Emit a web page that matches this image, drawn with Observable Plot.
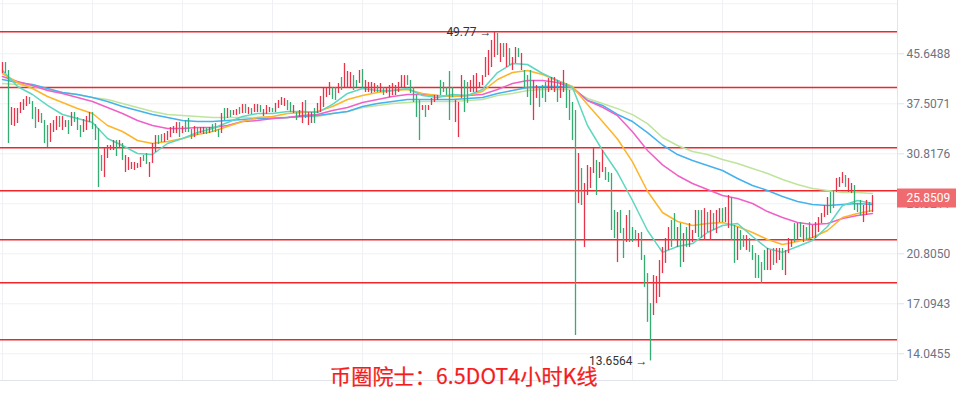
<!DOCTYPE html>
<html><head><meta charset="utf-8">
<script src="https://cdn.jsdelivr.net/npm/d3@7"></script>
<script src="https://cdn.jsdelivr.net/npm/@observablehq/plot@0.6"></script>
<style>
body{margin:0;background:#fff;}
#wrap{position:relative;width:956px;height:396px;overflow:hidden;}
#wrap svg{position:absolute;left:0;top:0;}
#title{position:absolute;left:330px;top:362px;z-index:2;font-family:"Noto Sans CJK SC",sans-serif;font-size:21px;line-height:26px;color:#f41c1c;white-space:nowrap;-webkit-text-stroke:0.25px #f41c1c;letter-spacing:0.2px;}
</style></head><body>
<div id="wrap"><div id="title">币圈院士：6.5DOT4小时K线</div></div>
<script>
// ---- candles (4h, DOT) : high, low, direction (1 = up/red, 0 = down/green)
const hi = [44.11,44.11,42.75,36.97,36.82,36.82,37.70,38.15,38.60,38.45,
37.85,36.97,36.68,36.10,35.12,34.44,34.71,35.12,35.68,35.68,
35.68,35.12,35.12,36.24,36.24,35.54,34.44,35.26,35.68,36.24,
36.24,34.57,34.04,30.61,31.47,31.84,31.84,32.47,32.47,32.47,
32.09,30.61,30.37,29.78,29.78,29.67,30.37,30.61,30.85,29.78,
32.09,33.11,33.11,33.24,33.37,33.64,34.17,34.31,34.84,34.84,
34.31,35.12,35.40,33.90,34.31,34.17,34.17,34.17,34.04,34.17,
34.57,34.71,33.90,36.10,36.82,36.82,36.53,36.53,36.68,36.97,
37.41,37.41,36.97,36.82,37.41,37.41,37.26,36.68,37.26,36.97,
36.82,37.56,38.00,38.45,38.30,38.00,37.70,37.26,36.24,36.53,
37.70,38.00,36.24,36.24,36.82,37.56,38.60,39.83,39.99,40.78,
39.99,39.99,40.62,41.59,43.94,42.58,42.41,41.91,41.10,42.75,
42.92,41.10,40.78,40.78,40.62,40.30,40.62,39.99,39.99,40.30,
40.62,40.30,40.78,41.91,41.91,41.91,41.10,39.99,38.75,38.00,
37.26,37.26,37.26,38.30,38.75,38.75,41.10,40.78,39.99,42.58,
39.99,38.00,37.70,41.91,41.10,40.78,41.10,41.91,42.25,40.78,
41.91,44.99,46.24,48.10,49.77,49.44,47.54,47.54,47.54,46.60,
44.99,46.79,46.60,45.70,42.75,41.91,42.75,41.10,40.30,39.99,
40.30,40.78,41.42,41.59,41.59,41.10,40.78,42.75,40.62,39.52,
37.70,36.53,30.85,29.09,27.42,29.43,29.20,31.47,30.02,29.78,
31.22,29.20,28.63,28.52,24.66,24.47,24.66,22.98,24.18,24.66,
23.07,22.80,22.53,22.62,20.67,19.25,17.11,19.10,19.03,20.26,
21.33,22.09,23.07,23.71,24.37,23.07,23.43,22.53,23.07,23.43,
22.80,24.66,24.66,24.66,24.85,24.47,24.66,24.37,24.66,24.85,
24.85,24.95,26.16,25.95,23.25,23.07,22.80,22.35,22.35,22.09,
21.49,20.83,20.67,20.10,21.08,21.24,21.08,21.24,21.24,21.24,
21.24,21.08,22.09,21.92,23.43,23.43,23.52,23.25,23.07,23.52,
23.25,23.52,23.99,24.37,25.15,25.95,26.47,26.68,27.97,28.08,
28.63,28.30,27.97,27.42,27.21,25.35,25.65,25.15,25.65,25.45,
26.16];
const lo = [42.25,42.25,32.09,34.44,34.31,34.71,36.10,36.53,37.11,37.41,
35.26,34.04,34.84,34.71,32.09,31.59,32.22,33.51,33.77,34.17,
33.77,34.17,33.24,34.31,34.84,33.77,32.85,33.51,33.77,34.84,
33.90,32.47,27.00,28.75,28.08,30.25,31.22,31.22,30.49,31.47,
30.02,28.63,28.86,28.97,28.86,29.09,29.20,29.90,29.55,28.08,
29.67,30.98,31.97,32.22,32.22,32.47,32.85,33.37,33.37,32.85,
33.37,33.51,33.51,32.60,32.85,33.11,33.37,33.24,33.24,33.37,
33.51,33.51,32.85,33.37,35.12,35.40,35.54,35.82,35.82,35.96,
36.10,36.10,35.96,35.96,36.24,36.24,36.24,35.68,35.96,36.24,
36.24,36.24,36.82,37.26,37.11,36.53,36.24,36.10,35.12,35.54,
34.71,35.40,34.44,34.71,34.71,36.10,36.24,36.97,38.45,38.75,
38.15,38.00,39.06,39.52,39.99,39.83,39.99,39.52,39.99,40.62,
39.83,39.21,39.21,39.06,39.21,39.21,39.21,38.75,39.06,38.45,
38.75,38.75,39.21,39.99,39.99,40.30,39.06,37.70,35.54,32.47,
36.53,35.54,36.53,37.26,37.70,38.00,38.75,39.21,38.75,35.12,
38.45,34.84,32.85,38.30,36.24,37.56,39.21,39.21,39.21,39.83,
40.30,41.59,41.91,43.25,44.99,45.34,44.11,44.99,43.25,43.59,
42.75,43.94,44.99,42.75,39.99,38.45,37.26,35.12,38.30,36.97,
38.30,37.70,39.21,39.52,39.21,37.70,38.30,39.21,36.82,35.12,
32.47,15.09,25.35,25.15,21.33,26.16,26.89,28.52,26.16,27.97,
28.63,27.75,27.53,22.80,22.09,20.10,22.53,20.42,21.75,21.75,
21.75,21.92,21.33,20.26,18.23,15.89,13.6564,16.32,17.11,17.52,
19.25,20.03,21.08,21.33,21.92,21.33,19.71,20.10,21.33,21.33,
21.75,22.53,22.18,22.09,21.92,22.62,21.92,22.80,22.53,23.52,
23.52,23.52,22.98,21.92,20.03,20.26,21.08,21.33,21.08,20.92,
20.26,18.88,18.88,18.52,19.48,19.48,19.48,19.87,20.03,20.26,
19.48,19.10,20.83,21.33,21.75,21.92,22.18,21.75,21.92,21.92,
22.09,22.09,22.62,23.43,23.99,24.18,24.37,24.85,26.47,27.00,
27.42,27.00,26.47,26.37,24.66,24.47,24.18,23.52,24.18,24.47,
24.47];
const up = [1,0,0,1,1,1,1,1,1,0, 0,0,1,0,0,0,1,1,1,0, 1,1,0,1,0,0,0,1,1,1,
0,0,0,0,1,1,1,1,0,1, 0,1,1,1,1,1,1,0,0,1, 1,1,0,0,1,1,1,1,1,0,
1,0,0,0,1,0,1,1,0,1, 0,0,0,1,0,1,0,1,1,0, 1,0,1,0,1,1,0,1,1,1,
0,1,1,1,1,0,0,1,0,1, 1,0,1,1,0,1,1,1,1,1, 0,0,1,0,1,1,1,0,0,1,
0,1,1,1,1,0,1,0,1,1, 1,1,1,1,1,0,0,0,0,0, 1,0,1,1,1,1,0,0,0,0,
0,1,1,1,0,0,1,1,1,1, 1,1,1,1,1,0,1,0,1,0, 1,1,0,1,0,0,0,1,1,0,
0,0,1,1,1,0,1,1,0,0, 0,0,1,0,1,1,1,1,0,1, 1,0,0,0,0,1,0,0,1,0,
0,0,1,0,0,0,0,1,1,1, 1,1,1,0,0,1,0,1,0,1, 1,1,0,0,1,0,1,0,1,1,
0,1,1,0,0,1,0,0,1,0, 0,0,0,0,0,1,1,0,1,1, 0,1,1,1,0,1,0,1,0,0,
1,1,1,1,1,1,0,0,1,1, 1,0,1,1,0,0,0,1,1,0, 1];

// ---- moving averages, read every 5 candles
const maIdx = [0,5,10,15,20,25,30,35,40,45,50,55,60,65,70,75,80,85,90,95,100,105,110,115,120,125,130,135,140,145,150,155,160,165,170,175,180,185,190,195,200,205,210,215,220,225,230,235,240,245,250,255,260,265,270,275,280,285,290];
const maTeal = [42.75,40.14,38.90,37.26,35.96,35.40,34.84,32.72,31.84,30.85,30.73,32.09,32.72,33.51,34.04,34.84,35.68,36.10,36.10,36.39,36.39,36.24,37.41,39.06,39.83,39.52,39.52,39.83,38.75,38.45,38.90,38.75,39.67,42.41,43.94,43.77,42.25,41.10,39.99,34.44,31.22,28.63,25.65,22.80,20.92,21.41,21.66,22.62,23.25,23.43,22.27,21.24,20.92,21.41,21.92,23.16,25.15,25.65,25.35];
const maOrange = [42.25,40.78,39.83,38.60,37.70,36.82,36.10,34.44,33.64,32.47,32.09,32.34,32.72,33.24,33.64,34.31,34.98,35.54,35.68,36.10,36.24,36.39,37.11,38.15,38.75,39.21,39.52,39.67,39.06,38.75,38.60,38.75,39.37,41.26,42.41,42.75,42.08,41.10,40.14,37.41,34.98,32.66,29.85,26.60,24.47,23.62,23.25,23.43,23.52,23.16,22.62,22.01,21.58,21.84,22.18,22.80,23.99,24.37,24.66];
const maPink = [41.75,40.94,40.30,39.52,39.06,38.45,37.85,36.97,36.10,35.12,34.44,34.04,34.04,34.17,34.17,34.44,34.98,35.12,35.40,35.54,35.82,35.96,36.53,36.97,37.70,38.15,38.60,38.90,38.90,38.75,38.60,38.75,38.90,39.67,40.62,41.10,41.10,40.78,39.99,38.00,37.00,35.80,33.60,31.22,29.50,28.30,27.42,26.79,26.16,25.85,25.35,24.56,23.99,23.52,23.34,23.43,23.90,24.18,24.37];
const maBlue = [41.26,40.78,40.46,39.83,39.21,38.90,38.45,37.85,37.11,36.53,35.96,35.54,35.12,34.98,34.98,35.12,35.26,35.40,35.40,35.54,35.68,35.82,36.10,36.39,37.11,37.56,37.85,38.15,38.15,38.15,38.15,38.30,38.45,39.06,39.52,39.99,40.14,40.14,39.99,38.00,37.26,35.96,34.98,33.50,31.90,30.73,30.02,29.43,28.86,27.97,27.21,26.68,26.06,25.55,25.25,25.15,25.25,25.35,25.25];
const maLime = [40.62,40.46,40.14,39.67,39.21,38.90,38.45,38.15,37.56,36.97,36.39,35.96,35.82,35.68,35.54,35.54,35.54,35.54,35.54,35.54,35.68,35.68,36.10,36.39,36.97,37.26,37.56,37.70,37.85,37.85,37.85,38.00,38.15,38.75,39.06,39.52,39.67,39.67,39.67,38.30,37.55,36.80,35.95,34.70,32.85,31.84,31.10,30.73,30.13,29.67,29.09,28.52,27.86,27.31,26.89,26.68,26.47,26.47,26.37];

// ---- levels, ticks, labels
const levels = [49.8, 40.0, 31.55, 26.65, 21.98, 18.56, 14.84];
const yTicks = [45.6488, 37.5071, 30.8176, 25.3211, 20.8050, 17.0943, 14.0455];
const yGrid = [55.5594, ...yTicks];
const xGrid = [0, 30, 60, 90, 120, 150, 180, 210, 240, 270];
const lastPrice = 25.8509;
const highMark = {i: 164, v: 49.77, label: "49.77 →"};
const lowMark = {i: 216, v: 13.6564, label: "13.6564 →"};

const RED = "#e6344a", GREEN = "#34ad72";
const candles = hi.map((h, i) => ({i, hi: h, lo: lo[i], up: up[i]}));
const maDefs = [
  {v: maLime, color: "#bfe49c"},
  {v: maBlue, color: "#44b2ee"},
  {v: maPink, color: "#f061c8"},
  {v: maOrange, color: "#fdb52a"},
  {v: maTeal, color: "#5cd8c0"}
];
const xDomain = [-2 / 3, -2 / 3 + 897 / 3];
const yDomain = [12.645, 56.284];
const labelHalf = Math.exp(9.5 / 254.5);

const chart = Plot.plot({
  width: 956, height: 396,
  marginLeft: 0, marginRight: 59, marginTop: 0, marginBottom: 16,
  style: {fontFamily: "Roboto, Arial, sans-serif", background: "#fff", overflow: "visible"},
  x: {domain: xDomain, axis: null},
  y: {type: "log", domain: yDomain, axis: null},
  marks: [
    Plot.gridX(xGrid, {stroke: "#eff1f4", strokeOpacity: 1}),
    Plot.gridY(yGrid, {stroke: "#eff1f4", strokeOpacity: 1}),
    Plot.ruleY([yDomain[0]], {stroke: "#e1e4ea"}),
    Plot.ruleX([xDomain[1]], {stroke: "#e1e4ea"}),
    Plot.ruleY(levels, {stroke: "#f0262b", strokeWidth: 1.5}),
    ...maDefs.map(m => Plot.line(m.v.map((v, k) => ({i: maIdx[k], v})), {x: "i", y: "v", stroke: m.color, strokeWidth: 1.5})),
    Plot.ruleX(candles, {x: "i", y1: "lo", y2: "hi", stroke: d => d.up ? RED : GREEN, strokeWidth: 1.3}),
    Plot.axisY(yTicks, {anchor: "right", tickSize: 6, tickPadding: 0, tickFormat: () => "", color: "#dfe2e8", label: null}),
    Plot.axisY(yTicks, {anchor: "right", tickSize: 0, tickPadding: 9, tickFormat: d => d.toFixed(4), fontSize: 12, color: "#6c7384", label: null}),
    Plot.rect([lastPrice], {x1: xDomain[1], x2: xDomain[1] + 59 / 3, y1: d => d / labelHalf, y2: d => d * labelHalf, fill: "#ef6b70"}),
    Plot.text([lastPrice], {y: d => d, text: d => d.toFixed(4), frameAnchor: "right", textAnchor: "start", dx: 9, fill: "#fff", fontSize: 12}),
    Plot.text([highMark, lowMark], {x: "i", y: "v", text: "label", textAnchor: "end", dx: -3, fill: "#333", fontSize: 12})
  ]
});
document.getElementById("wrap").prepend(chart);
</script>
</body></html>
